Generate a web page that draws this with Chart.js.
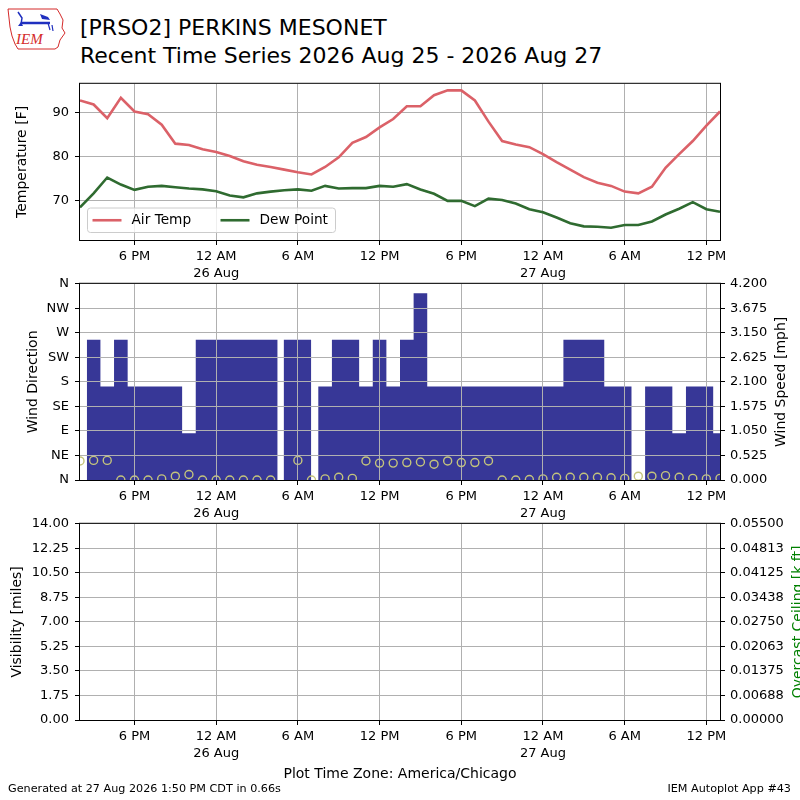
<!DOCTYPE html>
<html>
<head>
<meta charset="utf-8">
<script src="https://cdn.jsdelivr.net/npm/chart.js@4.4.1/dist/chart.umd.min.js"></script>
<style>
  body { margin: 0; background: #fff; font-family: 'DejaVu Sans', sans-serif; }
  #page { position: relative; width: 800px; height: 800px; overflow: hidden; background: #fff; }
  canvas { position: absolute; left: 0; }
  .txt { position: absolute; white-space: nowrap; color: #000; }
</style>
</head>
<body>
<div id="page">
  <svg style="position:absolute;left:0;top:0" width="70" height="55" viewBox="0 0 70 55">
    <path d="M8 9 L57 9 L60 14 L63 20 L62 28 L65 33 L60 40 L58 47 L55 49 L18 49 L15 44 L12 36 L10 27 L9 18 Z"
          fill="none" stroke="#d42a2a" stroke-width="1"/>
    <path d="M18 12 L22 18 L21 24" stroke="#1f2fbf" stroke-width="1.5" fill="none"/>
    <path d="M21 23 L50 23" stroke="#1f2fbf" stroke-width="2.5"/>
    <path d="M40 14 L48 17 L50 20 L42 19 Z" fill="#1f2fbf"/>
    <path d="M48 23 L50 30 M52 25 L53 31" stroke="#1f2fbf" stroke-width="1.2"/>
    <path d="M18 26 L21 22 L23 26 Z" fill="#1f2fbf"/>
    <text x="16" y="44" font-family="Liberation Serif, serif" font-style="italic" font-size="15" fill="#d42a2a">IEM</text>
  </svg>
  <div class="txt" style="left:80px;top:14px;font-size:22px;line-height:27.6px">[PRSO2] PERKINS MESONET<br>Recent Time Series 2026 Aug 25 - 2026 Aug 27</div>
  <canvas id="tempChart" width="800" height="210" style="top:70px"></canvas>
  <canvas id="windChart" width="800" height="250" style="top:270px"></canvas>
  <canvas id="visChart" width="800" height="280" style="top:510px"></canvas>
  <div class="txt" style="left:8px;top:782.6px;font-size:11.2px;line-height:12px">Generated at 27 Aug 2026 1:50 PM CDT in 0.66s</div>
  <div class="txt" style="right:9px;top:782.6px;font-size:11.2px;line-height:12px">IEM Autoplot App #43</div>
</div>
<script>
// hours counted from 00:00 25 Aug (local time)
const startHour = 14;
const endHour = 61;
const tickHours = [18, 24, 30, 36, 42, 48, 54, 60];
const tickLabels = [["6 PM"], ["12 AM", "26 Aug"], ["6 AM"], ["12 PM"], ["6 PM"], ["12 AM", "27 Aug"], ["6 AM"], ["12 PM"]];

const tempHours = [14, 15, 16, 17, 18, 19, 20, 21, 22, 23, 24, 25, 26, 27, 28, 29, 30, 31, 32, 33, 34, 35, 36, 37,
                   38, 39, 40, 41, 42, 43, 44, 45, 46, 47, 48, 49, 50, 51, 52, 53, 54, 55, 56, 57, 58, 59, 60, 61];
const airTemp = [92.7, 91.8, 88.7, 93.3, 90.2, 89.6, 87.2, 82.9, 82.6, 81.6, 81.0, 80.1, 78.9, 78.1, 77.6, 77.0, 76.4, 75.9, 77.6, 79.8, 83.1, 84.4, 86.6, 88.5,
                 91.4, 91.4, 93.9, 95.0, 95.0, 92.7, 87.9, 83.5, 82.7, 82.1, 80.5, 78.7, 77.0, 75.3, 74.0, 73.3, 72.0, 71.6, 73.1, 77.4, 80.5, 83.5, 87.0, 90.2];
const dewPoint = [68.4, 71.6, 75.2, 73.6, 72.4, 73.1, 73.3, 73.0, 72.7, 72.5, 72.1, 71.1, 70.7, 71.6, 72.0, 72.3, 72.5, 72.2, 73.3, 72.7, 72.8, 72.8, 73.3, 73.1,
                  73.7, 72.5, 71.5, 69.9, 69.9, 68.7, 70.4, 70.1, 69.3, 68.0, 67.3, 66.1, 64.8, 64.1, 64.0, 63.8, 64.4, 64.4, 65.2, 66.8, 68.1, 69.6, 68.0, 67.4];

// wind speed bars, one hour wide, centred on the observation hour
const speedHours = [15, 16, 17, 18, 19, 20, 21, 22, 23, 24, 25, 26, 27, 28, 29.47, 30.47,
                    32, 33, 34, 35, 36, 37, 38, 39, 40, 41, 42, 43, 44, 45, 46, 47, 48, 49, 50, 51, 52, 53, 54,
                    56, 57, 58, 59, 60, 61];
const windSpeed = [3, 2, 3, 2, 2, 2, 2, 1, 3, 3, 3, 3, 3, 3, 3, 3,
                   2, 3, 3, 2, 3, 2, 3, 4, 2, 2, 2, 2, 2, 2, 2, 2, 2, 2, 3, 3, 3, 2, 2,
                   2, 2, 1, 2, 2, 1];
const barWidth = 1;

const dirHours = [14, 15, 16, 17, 18, 19, 20, 21, 22, 23, 24, 25, 26, 27, 28, 30, 31, 32, 33, 34, 35, 36, 37,
                  38, 39, 40, 41, 42, 43, 44, 45, 46, 47, 48, 49, 50, 51, 52, 53, 54, 55, 56, 57, 58, 59, 60, 61];
const windDir = [35, 36, 36, 0, 0, 0, 2, 7, 10, 0, 0, 0, 0, 0, 0, 36, 0, 2, 5, 3, 35, 31, 31,
                 32, 33, 29, 35, 32, 32, 35, 0, 0, 1, 2, 5, 5, 5, 5, 4, 3, 7, 7, 8, 5, 3, 2, 3];
const compassLabels = ["N", "NE", "E", "SE", "S", "SW", "W", "NW", "N"];

// step outline of the bars: each bar starts at its left edge, a zero step closes any gap
const speedSteps = [];
speedHours.forEach((h, i) => {
  const left = h - barWidth / 2, right = h + barWidth / 2;
  speedSteps.push({ x: left, y: windSpeed[i] });
  const next = speedHours[i + 1];
  if (next === undefined || next - barWidth / 2 > right + 1e-6) speedSteps.push({ x: right, y: 0 });
});

Chart.defaults.font.family = "'DejaVu Sans', sans-serif";
Chart.defaults.font.size = 13;
Chart.defaults.color = "#000";

const gridColor = "#b0b0b0";
const titleFont = { size: 14 };

function timeAxis(height, grid) {
  return {
    type: "linear",
    min: startHour,
    max: endHour,
    offset: false,
    afterBuildTicks: (s) => { s.ticks = tickHours.map((v) => ({ value: v })); },
    afterFit: (s) => { s.height = height; },
    grid: Object.assign({ color: gridColor, lineWidth: 1, tickColor: "#000", tickLength: 5, offset: false }, grid || {}),
    border: { display: false },
    ticks: {
      padding: 3, maxRotation: 0, autoSkip: false,
      font: { size: 13, lineHeight: 1.3 },
      callback: (v) => tickLabels[tickHours.indexOf(v)],
    },
  };
}

function sideAxis(position, opts) {
  return Object.assign({
    type: "linear",
    position: position,
    afterFit: (s) => { s.width = 80; },
    border: { display: false },
  }, opts);
}

const framePlugin = {
  id: "frame",
  afterDraw(chart) {
    const { ctx, chartArea: a } = chart;
    ctx.save();
    ctx.strokeStyle = "#000";
    ctx.lineWidth = 1;
    ctx.strokeRect(a.left - 0.5, a.top - 0.5, a.width + 1, a.height + 1);
    ctx.restore();
  },
};

// right-hand axis titles read bottom to top, like the left ones
const rightTitlePlugin = {
  id: "rightTitle",
  afterDraw(chart, args, opts) {
    if (!opts.text) return;
    const { ctx, chartArea: a } = chart;
    ctx.save();
    ctx.translate(a.right + opts.offset, (a.top + a.bottom) / 2);
    ctx.rotate(-Math.PI / 2);
    ctx.fillStyle = opts.color || "#000";
    ctx.font = "14px 'DejaVu Sans'";
    ctx.textAlign = "center";
    ctx.textBaseline = "middle";
    ctx.fillText(opts.text, 0, 0);
    ctx.restore();
  },
};

const boxLegendPlugin = {
  id: "boxLegend",
  afterDatasetsDraw(chart) {
    const { ctx, chartArea: a } = chart;
    const x = a.left + 7.5, y = a.bottom - 32, w = 248, h = 24.5;
    ctx.save();
    ctx.fillStyle = "rgba(255,255,255,0.8)";
    ctx.strokeStyle = "#cccccc";
    ctx.lineWidth = 1;
    ctx.beginPath();
    ctx.roundRect(x, y, w, h, 3);
    ctx.fill();
    ctx.stroke();
    ctx.font = "13.7px 'DejaVu Sans'";
    ctx.textBaseline = "middle";
    ctx.fillStyle = "#000";
    chart.data.datasets.forEach((ds, i) => {
      const lx = x + 5 + i * 128;
      ctx.strokeStyle = ds.borderColor;
      ctx.lineWidth = ds.borderWidth;
      ctx.beginPath();
      ctx.moveTo(lx, y + h / 2);
      ctx.lineTo(lx + 29, y + h / 2);
      ctx.stroke();
      ctx.fillText(ds.label, lx + 39, y + h / 2 + 0.5);
    });
    ctx.restore();
  },
};

const common = {
  responsive: false,
  animation: false,
  events: [],
  plugins: { legend: { display: false }, tooltip: { enabled: false } },
};

// temperature panel
new Chart(document.getElementById("tempChart"), {
  type: "line",
  data: {
    datasets: [
      { label: "Air Temp", data: tempHours.map((h, i) => ({ x: h, y: airTemp[i] })),
        borderColor: "#db6168", borderWidth: 2.6, pointRadius: 0, clip: 0 },
      { label: "Dew Point", data: tempHours.map((h, i) => ({ x: h, y: dewPoint[i] })),
        borderColor: "#2f6b30", borderWidth: 2.6, pointRadius: 0, clip: 0 },
    ],
  },
  options: Object.assign({}, common, {
    layout: { padding: { top: 10, right: 80, left: 0, bottom: 0 } },
    scales: {
      x: timeAxis(40),
      y: sideAxis("left", {
        min: 61, max: 96.5,
        grid: { color: gridColor, tickColor: "#000", tickLength: 5 },
        ticks: { stepSize: 10, includeBounds: false, padding: 6 },
        title: { display: true, text: "Temperature [F]", font: titleFont, padding: { top: 14.1, bottom: 0 } },
      }),
    },
  }),
  plugins: [framePlugin, boxLegendPlugin],
});

// wind panel
new Chart(document.getElementById("windChart"), {
  type: "line",
  data: {
    datasets: [
      { label: "Direction", data: dirHours.map((h, i) => ({ x: h, y: windDir[i] })),
        yAxisID: "yDir", showLine: false, pointRadius: 4, pointBorderWidth: 1.4,
        pointBorderColor: "#c4c47c", pointBackgroundColor: "rgba(0,0,0,0)", clip: 0, order: 1 },
      { label: "Speed", data: speedSteps, yAxisID: "ySpd", stepped: "before",
        borderWidth: 0, borderColor: "rgba(0,0,0,0)", backgroundColor: "#373797",
        fill: "origin", pointRadius: 0, clip: 0, order: 2 },
    ],
  },
  options: Object.assign({}, common, {
    layout: { padding: { top: 10, right: 0, left: 0, bottom: 0 } },
    plugins: Object.assign({}, common.plugins, { rightTitle: { text: "Wind Speed [mph]", offset: 61 } }),
    scales: {
      x: timeAxis(40, { z: 1 }),
      yDir: sideAxis("left", {
        min: 0, max: 360,
        grid: { color: gridColor, tickColor: "#000", tickLength: 5, z: 1 },
        ticks: { stepSize: 45, padding: 6, callback: (v) => compassLabels[v / 45] },
        title: { display: true, text: "Wind Direction", font: titleFont, padding: { top: 24.6, bottom: 0 } },
      }),
      ySpd: sideAxis("right", {
        min: 0, max: 4.2,
        grid: { drawOnChartArea: false, tickColor: "#000", tickLength: 5 },
        ticks: { stepSize: 0.525, padding: 5, callback: (v) => v.toFixed(3) },
      }),
    },
  }),
  plugins: [framePlugin, rightTitlePlugin],
});

// visibility / ceiling panel (no observations in the period)
new Chart(document.getElementById("visChart"), {
  type: "line",
  data: { datasets: [] },
  options: Object.assign({}, common, {
    layout: { padding: { top: 10, right: 0, left: 0, bottom: 0 } },
    plugins: Object.assign({}, common.plugins, { rightTitle: { text: "Overcast Ceiling [k ft]", offset: 78, color: "#008000" } }),
    scales: {
      x: Object.assign(timeAxis(70), {
        title: { display: true, text: "Plot Time Zone: America/Chicago", font: titleFont, padding: { top: 0, bottom: 7.1 } },
      }),
      yVis: sideAxis("left", {
        min: 0, max: 14,
        grid: { color: gridColor, tickColor: "#000", tickLength: 5 },
        ticks: { stepSize: 1.75, padding: 6, callback: (v) => v.toFixed(2) },
        title: { display: true, text: "Visibility [miles]", font: titleFont, padding: { top: 9.1, bottom: 0 } },
      }),
      yCeil: sideAxis("right", {
        min: 0, max: 0.055,
        grid: { drawOnChartArea: false, tickColor: "#000", tickLength: 5 },
        ticks: { stepSize: 0.006875, padding: 5, callback: (v) => (Math.round(v * 1e5 + 1e-6) / 1e5).toFixed(5) },
      }),
    },
  }),
  plugins: [framePlugin, rightTitlePlugin],
});
</script>
</body>
</html>
